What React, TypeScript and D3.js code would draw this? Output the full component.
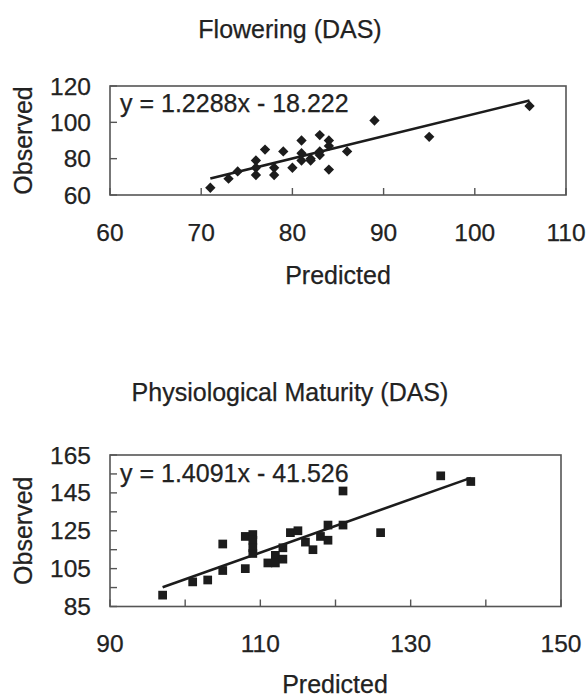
import React from "react";
import * as d3 from "d3";

// ---------- Data ----------
const flowerPredicted = [71, 73, 74, 76, 76, 76, 77, 78, 78, 79, 80, 81, 81, 81, 82, 82, 83, 83, 83, 84, 84, 84, 86, 89, 95, 106];
const flowerObserved = [64, 69, 73, 79, 75, 71, 85, 75, 71, 84, 75, 90, 83, 79, 80, 79, 93, 84, 82, 90, 87, 74, 84, 101, 92, 109];
const flowerSlope = 1.2288;
const flowerIntercept = -18.222;
const flowerXTicks = [60, 70, 80, 90, 100, 110];
const flowerYTicks = [60, 80, 100, 120];
const flowerYLabels = [60, 80, 100, 120];
const flowerXLabels = [60, 70, 80, 90, 100, 110];

const matPredicted = [97, 101, 103, 105, 105, 108, 108, 109, 109, 109, 109, 111, 112, 112, 113, 113, 114, 115, 116, 117, 118, 119, 119, 121, 121, 126, 134, 138];
const matObserved = [91, 98, 99, 118, 104, 122, 105, 123, 120, 116, 113, 108, 112, 108, 110, 116, 124, 125, 119, 115, 122, 128, 120, 146, 128, 124, 154, 151];
const matSlope = 1.4091;
const matIntercept = -41.526;
const matXTicks = [90, 100, 110, 120, 130, 140, 150];
const matYTicks = [85, 95, 105, 115, 125, 135, 145, 155, 165];
const matXLabels = [90, 110, 130, 150];
const matYLabels = [85, 105, 125, 145, 165];

const FONT = "'Liberation Sans', Arial, Helvetica, sans-serif";
const TEXT = "#222";
const INK = "#1c1c1c";
const FRAME = "#555";

type PanelProps = {
  title: string;
  titleY: number;
  xs: number[];
  ys: number[];
  slope: number;
  intercept: number;
  xDomain: [number, number];
  yDomain: [number, number];
  xRange: [number, number];
  yRange: [number, number];
  xTicks: number[];
  yTicks: number[];
  xLabels: number[];
  yLabels: number[];
  xLabelY: number;
  predictedX: number;
  predictedY: number;
  eqY: number;
  symbol: d3.SymbolType;
  symbolSize: number;
};

const textProps = { fill: TEXT, fontFamily: FONT, stroke: TEXT, strokeWidth: 0.25 };

function Panel(p: PanelProps) {
  const x = d3.scaleLinear().domain(p.xDomain).range(p.xRange);
  const y = d3.scaleLinear().domain(p.yDomain).range(p.yRange);
  const [x0, x1] = p.xRange;
  const [yb, yt] = p.yRange;
  const tickLen = 7;
  const sym = d3.symbol().type(p.symbol).size(p.symbolSize)() as string;
  const minX = d3.min(p.xs) as number;
  const maxX = d3.max(p.xs) as number;
  const line = d3
    .line<number>()
    .x((v) => x(v))
    .y((v) => y(p.slope * v + p.intercept));
  const sign = p.intercept < 0 ? "-" : "+";
  const eq = `y = ${p.slope}x ${sign} ${Math.abs(p.intercept)}`;
  const cy = (yb + yt) / 2;
  return (
    <g>
      <text x={290} y={p.titleY} textAnchor="middle" fontSize={25} {...textProps}>
        {p.title}
      </text>
      <rect x={x0} y={yt} width={x1 - x0} height={yb - yt} fill="none" stroke={FRAME} strokeWidth={1.6} />
      {p.yTicks.map((t) => (
        <line key={"yt" + t} x1={x0} x2={x0 + tickLen} y1={y(t)} y2={y(t)} stroke={FRAME} strokeWidth={1.4} />
      ))}
      {p.xTicks.map((t) => (
        <line key={"xt" + t} x1={x(t)} x2={x(t)} y1={yb} y2={yb - tickLen} stroke={FRAME} strokeWidth={1.4} />
      ))}
      {p.yLabels.map((t) => (
        <text key={"yl" + t} x={91} y={y(t) + 8.5} textAnchor="end" fontSize={24.5} {...textProps}>
          {t}
        </text>
      ))}
      {p.xLabels.map((t) => (
        <text key={"xl" + t} x={x(t)} y={p.xLabelY} textAnchor="middle" fontSize={24.5} {...textProps}>
          {t}
        </text>
      ))}
      <text x={p.predictedX} y={p.predictedY} textAnchor="middle" fontSize={25} {...textProps}>
        Predicted
      </text>
      <text transform={`translate(32,${cy}) rotate(-90)`} textAnchor="middle" fontSize={25} {...textProps}>
        Observed
      </text>
      <path d={line([minX, maxX]) as string} fill="none" stroke={INK} strokeWidth={2.6} />
      {p.xs.map((v, i) => (
        <path key={"pt" + i} d={sym} transform={`translate(${x(v)},${y(p.ys[i])})`} fill={INK} />
      ))}
      <text x={120} y={p.eqY} fontSize={25} {...textProps}>
        {eq}
      </text>
    </g>
  );
}

export default function App() {
  return (
    <svg width={588} height={697} style={{ display: "block", position: "absolute", left: 0, top: 0 }}>
      <rect width={588} height={697} fill="#fff" />
      <Panel
        title="Flowering (DAS)"
        titleY={38}
        xs={flowerPredicted}
        ys={flowerObserved}
        slope={flowerSlope}
        intercept={flowerIntercept}
        xDomain={[60, 110]}
        yDomain={[60, 120]}
        xRange={[110, 566]}
        yRange={[195, 86]}
        xTicks={flowerXTicks}
        yTicks={flowerYTicks}
        xLabels={flowerXLabels}
        yLabels={flowerYLabels}
        xLabelY={241}
        predictedX={338}
        predictedY={284}
        eqY={112}
        symbol={d3.symbolDiamond2}
        symbolSize={68}
      />
      <Panel
        title="Physiological Maturity (DAS)"
        titleY={401}
        xs={matPredicted}
        ys={matObserved}
        slope={matSlope}
        intercept={matIntercept}
        xDomain={[90, 150]}
        yDomain={[85, 165]}
        xRange={[110, 561]}
        yRange={[606.5, 455]}
        xTicks={matXTicks}
        yTicks={matYTicks}
        xLabels={matXLabels}
        yLabels={matYLabels}
        xLabelY={652}
        predictedX={335}
        predictedY={693}
        eqY={482}
        symbol={d3.symbolSquare}
        symbolSize={76}
      />
    </svg>
  );
}
